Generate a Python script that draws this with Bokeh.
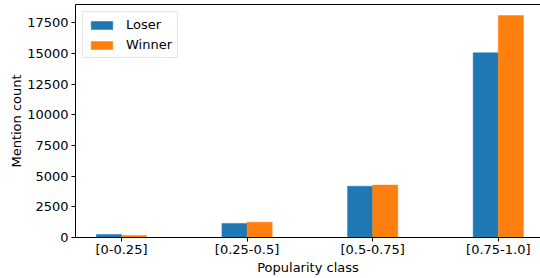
from bokeh.plotting import figure
from bokeh.models import Range1d, FixedTicker, Legend, LegendItem, ColumnDataSource, LinearAxis
from bokeh.transform import dodge
from bokeh.embed import file_html
from bokeh.resources import INLINE

categories = ["[0-0.25]", "[0.25-0.5]", "[0.5-0.75]", "[0.75-1.0]"]
loser = [250, 1150, 4180, 15050]
winner = [170, 1250, 4270, 18080]
y_ticks = [0, 2500, 5000, 7500, 10000, 12500, 15000, 17500]

FONT = "DejaVu Sans"
BLUE = "#1f77b4"
ORANGE = "#ff7f0e"
pos = list(range(len(categories)))
src = ColumnDataSource(dict(x=pos, loser=loser, winner=winner))
y_top = 1.05 * max(winner)

p = figure(width=540, height=278,
           x_range=Range1d(-0.366, 3.336),
           y_range=Range1d(0, y_top),
           output_backend="svg", toolbar_location=None,
           min_border_left=75, min_border_right=0,
           min_border_top=4, min_border_bottom=41,
           x_axis_label="Popularity class", y_axis_label="Mention count")
p.outline_line_color = None
p.xgrid.visible = False
p.ygrid.visible = False
p.background_fill_color = "white"
p.border_fill_color = "white"

p.xaxis.ticker = FixedTicker(ticks=pos)
p.xaxis.major_label_overrides = {i: c for i, c in zip(pos, categories)}
p.yaxis.ticker = FixedTicker(ticks=y_ticks)

for ax in (p.xaxis[0], p.yaxis[0]):
    ax.axis_line_color = "black"
    ax.axis_line_width = 1
    ax.major_tick_line_color = "black"
    ax.major_tick_out = 4
    ax.major_tick_in = 0
    ax.minor_tick_line_color = None
    ax.major_label_text_font = FONT
    ax.major_label_text_font_size = "13px"
    ax.major_label_text_color = "black"
    ax.axis_label_text_font = FONT
    ax.axis_label_text_font_size = "13px"
    ax.axis_label_text_font_style = "normal"
    ax.axis_label_text_color = "black"
    ax.axis_label_standoff = 0

p.xaxis.major_label_standoff = 0
p.yaxis.major_label_standoff = 3

# top spine: an axis above with invisible ticks and labels
top_axis = LinearAxis(ticker=FixedTicker(ticks=pos),
                      axis_line_color="black", axis_line_width=1,
                      major_tick_line_color=None, minor_tick_line_color=None,
                      major_tick_out=0, major_tick_in=0,
                      minor_tick_out=0, minor_tick_in=0,
                      major_label_text_color=None,
                      major_label_text_font_size="1px",
                      major_label_standoff=0)
p.add_layout(top_axis, "above")

r1 = p.vbar(x=dodge("x", -0.1, range=p.x_range), top="loser", width=0.2, source=src,
            fill_color=BLUE, line_color=BLUE, line_width=0.5)
r2 = p.vbar(x=dodge("x", 0.1, range=p.x_range), top="winner", width=0.2, source=src,
            fill_color=ORANGE, line_color=ORANGE, line_width=0.5)

legend = Legend(items=[LegendItem(label="Loser", renderers=[r1]),
                       LegendItem(label="Winner", renderers=[r2])],
                location="top_left")
legend.margin = 7
legend.padding = 5
legend.spacing = 5
legend.glyph_width = 27
legend.glyph_height = 10
legend.label_height = 14
legend.label_standoff = 11
legend.label_text_font = FONT
legend.label_text_font_size = "13px"
legend.label_text_color = "black"
legend.border_line_color = "#cccccc"
legend.background_fill_alpha = 0.8
p.add_layout(legend)

open("out.html", "w").write(file_html(p, INLINE))
